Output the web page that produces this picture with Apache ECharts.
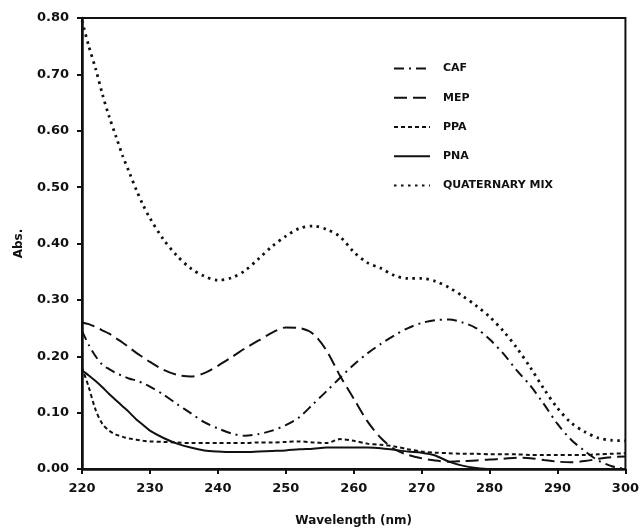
<!DOCTYPE html>
<html>
<head>
<meta charset="utf-8">
<script src="https://cdn.jsdelivr.net/npm/echarts@6/dist/echarts.min.js"></script>
<style>
  html, body { margin: 0; padding: 0; background: #fff; }
  #chart { width: 642px; height: 532px; }
</style>
</head>
<body>
<div id="chart"></div>
<script>
// wavelength (nm)
const wavelength = [220, 221, 222, 223, 224, 225, 226, 227, 228, 229, 230,
  232, 234, 236, 238, 240, 242, 244, 246, 248, 250, 252, 254, 256, 258, 260,
  262, 264, 266, 268, 270, 272, 274, 276, 278, 280, 282, 284, 286, 288, 290,
  292, 294, 296, 298, 300]

const caf = [0.245, 0.220, 0.200, 0.185, 0.177, 0.170, 0.165, 0.160, 0.157, 0.152, 0.146,
  0.132, 0.115, 0.099, 0.083, 0.072, 0.063, 0.059, 0.062, 0.068, 0.078, 0.092, 0.115, 0.138, 0.162, 0.185,
  0.205, 0.222, 0.237, 0.250, 0.259, 0.264, 0.265, 0.260, 0.250, 0.230, 0.205, 0.175, 0.148, 0.115, 0.080,
  0.052, 0.032, 0.015, 0.005, 0.000]

const mep = [0.260, 0.257, 0.252, 0.246, 0.240, 0.232, 0.224, 0.215, 0.206, 0.198, 0.190,
  0.176, 0.167, 0.164, 0.170, 0.183, 0.198, 0.214, 0.228, 0.242, 0.251, 0.250, 0.240, 0.210, 0.165, 0.125,
  0.085, 0.055, 0.035, 0.025, 0.019, 0.015, 0.013, 0.014, 0.015, 0.017, 0.018, 0.020, 0.019, 0.016, 0.013,
  0.012, 0.014, 0.018, 0.021, 0.022]

const ppa = [0.180, 0.145, 0.105, 0.080, 0.068, 0.061, 0.057, 0.054, 0.052, 0.050, 0.049,
  0.048, 0.047, 0.046, 0.046, 0.046, 0.046, 0.046, 0.047, 0.047, 0.048, 0.049, 0.047, 0.046, 0.053, 0.050,
  0.045, 0.043, 0.040, 0.035, 0.031, 0.029, 0.028, 0.027, 0.027, 0.026, 0.026, 0.026, 0.025, 0.025, 0.025,
  0.025, 0.025, 0.026, 0.027, 0.028]

const pna = [0.175, 0.166, 0.156, 0.145, 0.133, 0.122, 0.111, 0.100, 0.088, 0.078, 0.068,
  0.055, 0.045, 0.038, 0.033, 0.031, 0.030, 0.030, 0.031, 0.032, 0.033, 0.035, 0.036, 0.038, 0.038, 0.038,
  0.038, 0.037, 0.034, 0.031, 0.029, 0.024, 0.013, 0.006, 0.002, 0.000, 0.000, 0.000, 0.000, 0.000, 0.000,
  0.000, 0.000, 0.000, 0.000, 0.000]

const quaternary = [0.795, 0.750, 0.710, 0.665, 0.625, 0.590, 0.555, 0.525, 0.495, 0.468, 0.445,
  0.407, 0.378, 0.356, 0.342, 0.335, 0.339, 0.352, 0.373, 0.395, 0.413, 0.427, 0.431, 0.425, 0.412, 0.385,
  0.366, 0.356, 0.343, 0.338, 0.338, 0.333, 0.322, 0.307, 0.290, 0.270, 0.245, 0.215, 0.180, 0.142, 0.108,
  0.082, 0.066, 0.055, 0.051, 0.050]

const seriesNames = ['CAF', 'MEP', 'PPA', 'PNA', 'QUATERNARY MIX']
const seriesData = [caf, mep, ppa, pna, quaternary]
const dashes = [[10, 5, 2, 5], [13, 6], [4, 3], 'solid', [2.5, 4.5]]

const pairs = (ys) => wavelength.map((x, i) => [x, ys[i]])

const myChart = echarts.init(document.getElementById('chart'))

const options = {
  animation: false,
  textStyle: { fontFamily: 'DejaVu Sans' },
  grid: { // 图表边距
    left: 82,
    right: 15,
    top: 18,
    bottom: 62,
    show: true,
    borderColor: '#111',
    borderWidth: 2
  },
  legend: {
    orient: 'vertical',
    left: 388,
    top: 58,
    itemWidth: 36,
    itemHeight: 14,
    itemGap: 18,
    data: seriesNames,
    itemStyle: { opacity: 0 }, // 只显示线型
    textStyle: {
      color: '#111',
      fontWeight: 'bold',
      fontSize: 11,
      padding: [0, 0, 0, 8]
    }
  },
  xAxis: {
    type: 'value',
    min: 220,
    max: 300,
    interval: 10,
    name: 'Wavelength (nm)',
    nameLocation: 'middle',
    nameGap: 46,
    nameTextStyle: { color: '#111', fontWeight: 'bold', fontSize: 12 },
    axisLine: { show: true, lineStyle: { color: '#111', width: 2.5 } },
    axisTick: { show: true, length: 5, lineStyle: { color: '#111', width: 2 } },
    splitLine: { show: false },
    axisLabel: { color: '#111', fontWeight: 'bold', fontSize: 13, margin: 13 }
  },
  yAxis: {
    type: 'value',
    min: 0,
    max: 0.8,
    interval: 0.1,
    name: 'Abs.',
    nameLocation: 'middle',
    nameGap: 57,
    nameTextStyle: { color: '#111', fontSize: 12, fontWeight: 'bold' },
    axisLine: { show: true, lineStyle: { color: '#111', width: 2.5 } },
    axisTick: { show: true, length: 5, lineStyle: { color: '#111', width: 2 } },
    splitLine: { show: false },
    axisLabel: {
      color: '#111',
      fontWeight: 'bold',
      fontSize: 13,
      margin: 13,
      formatter: (v) => v.toFixed(2)
    }
  },
  series: seriesNames.map((name, i) => ({
    name: name,
    type: 'line',
    data: pairs(seriesData[i]),
    smooth: 0.3,
    symbol: 'none',
    lineStyle: {
      color: '#111',
      width: i === 4 ? 2.8 : 2,
      type: dashes[i]
    },
    itemStyle: { color: '#111' }
  }))
}

myChart.setOption(options)
</script>
</body>
</html>
